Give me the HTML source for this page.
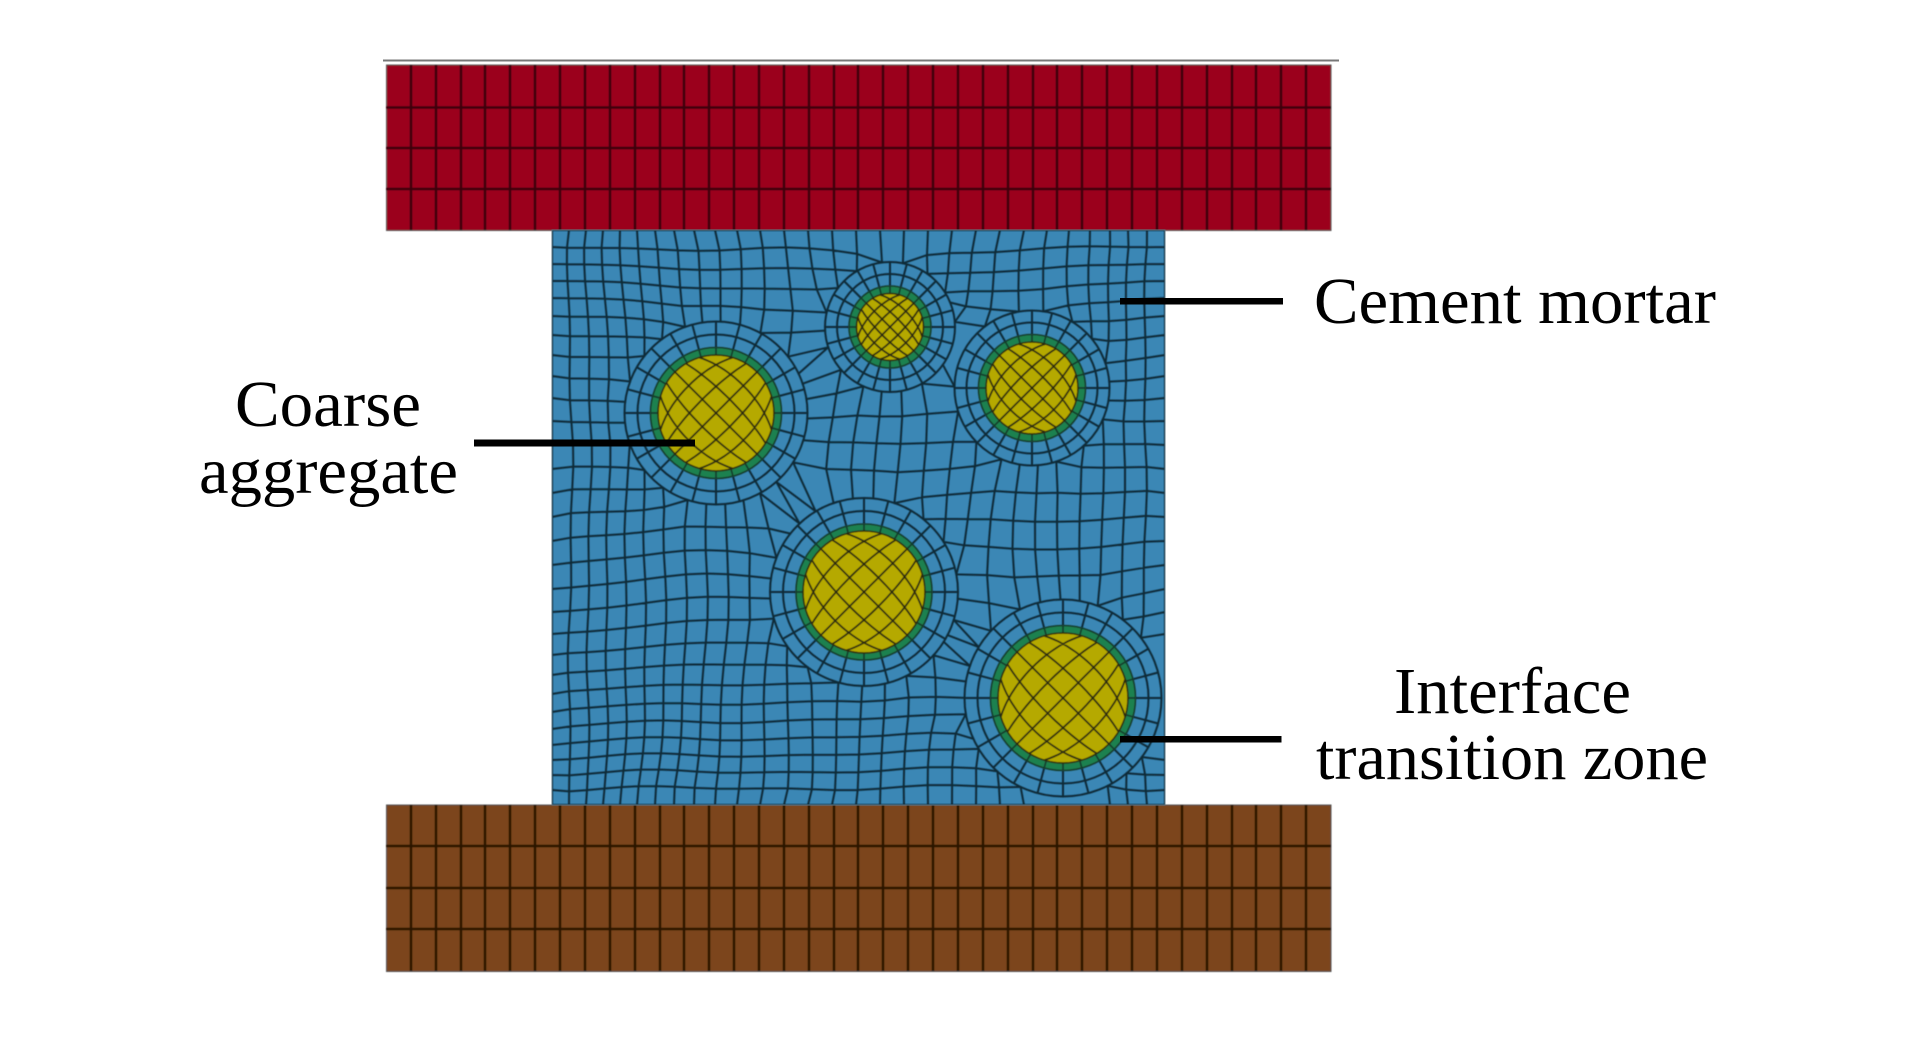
<!DOCTYPE html>
<html><head><meta charset="utf-8"><style>
html,body{margin:0;padding:0;background:#fff}
svg{display:block}
text{font-family:"Liberation Serif",serif;font-size:66px;fill:#000}
</style></head><body>
<svg id="s" xmlns="http://www.w3.org/2000/svg" width="1923" height="1039" viewBox="0 0 1923 1039">
<defs>
<clipPath id="mc"><rect x="552" y="230" width="613" height="575"/></clipPath>
<filter id="b" filterUnits="userSpaceOnUse" x="370" y="50" width="980" height="940"><feGaussianBlur stdDeviation="0.5"/></filter>
<filter id="m" filterUnits="userSpaceOnUse" x="370" y="50" width="980" height="940"><feGaussianBlur stdDeviation="0.4"/></filter>
</defs>
<rect width="1923" height="1039" fill="#fff"/>
<rect x="383" y="59.5" width="956" height="2" fill="#777"/>

<g filter="url(#b)">
<rect x="386.5" y="65" width="944.5" height="165.5" fill="#9b001e" stroke="#555" stroke-width="1"/>
<path d="M411 65V230M436 65V230M461 65V230M485 65V230M510 65V230M535 65V230M560 65V230M585 65V230M610 65V230M635 65V230M660 65V230M684 65V230M709 65V230M734 65V230M759 65V230M784 65V230M809 65V230M834 65V230M858 65V230M883 65V230M908 65V230M933 65V230M958 65V230M983 65V230M1008 65V230M1033 65V230M1057 65V230M1082 65V230M1107 65V230M1132 65V230M1157 65V230M1182 65V230M1207 65V230M1232 65V230M1256 65V230M1281 65V230M1306 65V230M386 107.5H1331M386 148H1331M386 189H1331" stroke="#3c000c" stroke-width="2.5" fill="none"/>
<rect x="386.5" y="805" width="944.5" height="166.5" fill="#7c441e" stroke="#555" stroke-width="1"/>
<path d="M411 805V971M436 805V971M461 805V971M485 805V971M510 805V971M535 805V971M560 805V971M585 805V971M610 805V971M635 805V971M660 805V971M684 805V971M709 805V971M734 805V971M759 805V971M784 805V971M809 805V971M834 805V971M858 805V971M883 805V971M908 805V971M933 805V971M958 805V971M983 805V971M1008 805V971M1033 805V971M1057 805V971M1082 805V971M1107 805V971M1132 805V971M1157 805V971M1182 805V971M1207 805V971M1232 805V971M1256 805V971M1281 805V971M1306 805V971M386 846H1331M386 888H1331M386 929H1331" stroke="#2a1405" stroke-width="2.5" fill="none"/>
</g>

<rect x="552" y="230" width="613" height="575" fill="#3b87b5"/>
<g clip-path="url(#mc)"><g id="mesh" filter="url(#m)"></g></g>
<rect x="552" y="230" width="613" height="575" fill="none" stroke="#5a7482" stroke-width="1"/>
<g id="inc" filter="url(#m)"></g>

<rect x="474" y="439.5" width="221" height="7" fill="#000"/>
<rect x="1120" y="298" width="163" height="6.5" fill="#000"/>
<rect x="1120" y="736" width="161.5" height="6.5" fill="#000"/>

<text x="235" y="426" textLength="186" lengthAdjust="spacingAndGlyphs">Coarse</text>
<text x="199" y="493" textLength="259" lengthAdjust="spacingAndGlyphs">aggregate</text>
<text x="1314" y="323" textLength="402" lengthAdjust="spacingAndGlyphs">Cement mortar</text>
<text x="1394" y="713" textLength="237" lengthAdjust="spacingAndGlyphs">Interface</text>
<text x="1316" y="779" textLength="392" lengthAdjust="spacingAndGlyphs">transition zone</text>
</svg>
<script>
(function(){
var NS="http://www.w3.org/2000/svg";
var mesh=document.getElementById("mesh"),inc=document.getElementById("inc");
function el(p,t,a){var e=document.createElementNS(NS,t);for(var k in a)e.setAttribute(k,a[k]);p.appendChild(e);return e;}
// cx, cy, outer (ITZ) radius, yellow radius, band width
var C=[[890,327,41,33.5,24],[716,413,65.5,58,26],[1032,388,53.5,46,24],[864,592,68,61,26],[1063,698,72.5,65,26]];
var LINE="#0c2a38",W=2,ALPHA=0.55;
var xs=[552,569,586,603,620,637,655,674,694,715,737,760,784,808,832,856,880,904,928,952,976,1000,1024,1047,1069,1090,1110,1128,1147,1165];
var ys=[230,247,264,281,298,316,335,355,376,398,421,445,469,493,517,541,565,589,612,634,655,675,694,712,729,745,760,775,790,805];
var nx=xs.length,ny=ys.length,N=[];
function id(i,j){return j*nx+i;}
for(var j=0;j<ny;j++)for(var i=0;i<nx;i++){
  var x=xs[i],y=ys[j],edge=(i==0||j==0||i==nx-1||j==ny-1);
  var bx=x,by=y;
  if(!edge){bx+=3*Math.sin(x*.031+y*.017+1)+2*Math.sin(y*.047-x*.013);by+=3*Math.sin(y*.029-x*.021+2)+2*Math.sin(x*.043+y*.011);}
  var n={i:i,j:j,x:bx,y:by,bx:bx,by:by,edge:edge,dead:false,snap:-1};
  if(!edge)C.forEach(function(c,k){if(Math.hypot(x-c[0],y-c[1])<c[2]+c[4]){n.dead=true;n.owner=k;}});
  N.push(n);
}
function nb(n){var r=[];if(n.i>0)r.push(N[id(n.i-1,n.j)]);if(n.i<nx-1)r.push(N[id(n.i+1,n.j)]);if(n.j>0)r.push(N[id(n.i,n.j-1)]);if(n.j<ny-1)r.push(N[id(n.i,n.j+1)]);return r;}
N.forEach(function(n){
  if(n.dead||n.edge)return;
  nb(n).forEach(function(m){if(m.dead&&n.snap<0)n.snap=m.owner;});
});
function proj(n){var c=C[n.snap],r=c[2]+c[4],dx=n.x-c[0],dy=n.y-c[1],d=Math.max(Math.hypot(dx,dy),.01);n.x=c[0]+dx/d*r;n.y=c[1]+dy/d*r;}
N.forEach(function(n){if(n.snap>=0)proj(n);});
for(var it=0;it<500;it++){
  N.forEach(function(n){
    if(n.dead||n.edge)return;
    var sx=0,sy=0,k=0;
    nb(n).forEach(function(m){if(m.dead)return;sx+=m.x+ALPHA*(n.bx-m.bx);sy+=m.y+ALPHA*(n.by-m.by);k++;});
    if(!k)return;
    n.x=sx/k;n.y=sy/k;
    if(n.snap>=0)proj(n);
  });
}
var d="";
N.forEach(function(n){
  if(n.dead)return;
  [n.i<nx-1?N[id(n.i+1,n.j)]:null,n.j<ny-1?N[id(n.i,n.j+1)]:null].forEach(function(m){
    if(!m||m.dead)return;
    if(n.snap>=0&&n.snap==m.snap)return;
    d+="M"+n.x.toFixed(1)+" "+n.y.toFixed(1)+"L"+m.x.toFixed(1)+" "+m.y.toFixed(1);
  });
});
el(mesh,"path",{d:d,fill:"none",stroke:LINE,"stroke-width":W,"stroke-linecap":"round"});
C.forEach(function(c,k){
  var cx=c[0],cy=c[1],R=c[2],Y=c[3],o=R+c[4],s="",t="";
  el(mesh,"circle",{cx:cx,cy:cy,r:o,fill:"none",stroke:LINE,"stroke-width":W});
  el(mesh,"circle",{cx:cx,cy:cy,r:R+c[4]/2,fill:"none",stroke:LINE,"stroke-width":W});
  for(var a=0;a<24;a++){
    var ang=a*Math.PI/12,ca=Math.cos(ang),sa=Math.sin(ang);
    s+="M"+(cx+R*ca).toFixed(1)+" "+(cy+R*sa).toFixed(1)+"L"+(cx+o*ca).toFixed(1)+" "+(cy+o*sa).toFixed(1);
    t+="M"+(cx+Y*ca).toFixed(1)+" "+(cy+Y*sa).toFixed(1)+"L"+(cx+R*ca).toFixed(1)+" "+(cy+R*sa).toFixed(1);
  }
  el(mesh,"path",{d:s,stroke:LINE,"stroke-width":W,fill:"none"});
  el(inc,"circle",{cx:cx,cy:cy,r:R,fill:"#1f8150",stroke:"#123b2c","stroke-width":1.6});
  el(inc,"path",{d:t,stroke:"#123b2c","stroke-width":1.7,fill:"none"});
  el(inc,"circle",{cx:cx,cy:cy,r:Y,fill:"#b5a900",stroke:"#2c2a08","stroke-width":1.6});
  var h="",q=Math.SQRT1_2;
  function pt(u,v){
    var X=u*Math.sqrt(1-v*v/2),Z=v*Math.sqrt(1-u*u/2);
    return (cx+Y*(X-Z)*q).toFixed(1)+" "+(cy+Y*(X+Z)*q).toFixed(1);
  }
  for(var n=-2;n<=2;n++){
    var u=n/3,j,v;
    for(j=0;j<=24;j++){v=-1+j/12;h+=(j?"L":"M")+pt(u,v);}
    for(j=0;j<=24;j++){v=-1+j/12;h+=(j?"L":"M")+pt(v,u);}
  }
  el(inc,"path",{d:h,stroke:"#2c2a08","stroke-width":1.8,fill:"none"});
});
})();
</script>
</body></html>
